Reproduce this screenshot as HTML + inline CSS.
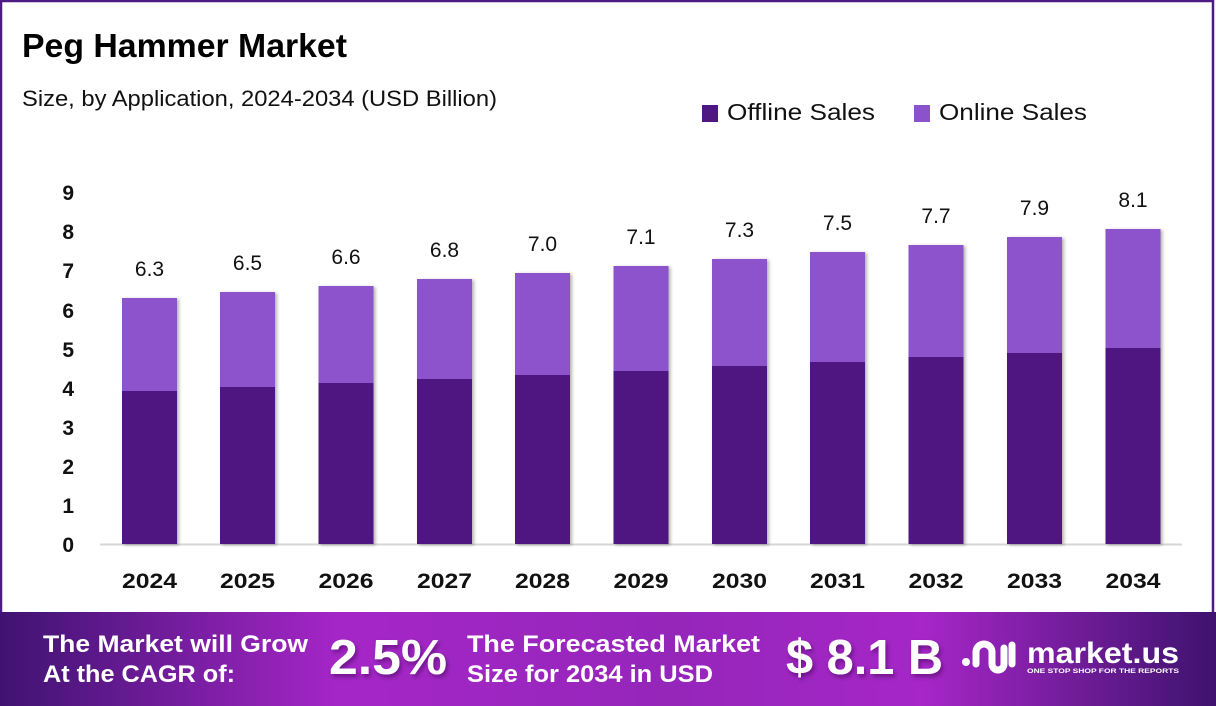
<!DOCTYPE html>
<html>
<head>
<meta charset="utf-8">
<style>
  html,body{margin:0;padding:0;background:#fff;}
  body{width:1216px;height:706px;overflow:hidden;}
  svg{display:block;}
  text{font-family:"Liberation Sans", Arial, sans-serif;}
</style>
</head>
<body>
<svg width="1216" height="706" viewBox="0 0 1216 706" xmlns="http://www.w3.org/2000/svg">
  <defs>
    <linearGradient id="ban" x1="0" y1="0" x2="1" y2="0">
      <stop offset="0" stop-color="#3f1371"/>
      <stop offset="0.28" stop-color="#a526c7"/>
      <stop offset="0.55" stop-color="#9526ba"/>
      <stop offset="0.76" stop-color="#a626c7"/>
      <stop offset="1" stop-color="#3e136e"/>
    </linearGradient>
    <filter id="sh" x="-10%" y="-5%" width="130%" height="115%">
      <feDropShadow dx="2" dy="1" stdDeviation="1.5" flood-color="#000" flood-opacity="0.3"/>
    </filter>
    <filter id="tsh" x="-10%" y="-10%" width="130%" height="140%">
      <feDropShadow dx="2" dy="3" stdDeviation="2" flood-color="#2a0a40" flood-opacity="0.45"/>
    </filter>
  </defs>

  <!-- frame -->
  <rect x="0" y="0" width="1216" height="706" fill="#fff"/>
  <rect x="1" y="1" width="1212" height="640" fill="none" stroke="#4b1a82" stroke-width="2.5"/>

  <!-- title -->
  <text x="22" y="57" font-size="33" font-weight="bold" fill="#000" textLength="325" lengthAdjust="spacingAndGlyphs">Peg Hammer Market</text>
  <text x="22" y="106" font-size="22" fill="#111" textLength="475" lengthAdjust="spacingAndGlyphs">Size, by Application, 2024-2034 (USD Billion)</text>

  <!-- legend -->
  <rect x="702" y="105" width="16" height="17" fill="#4f1781"/>
  <text x="727" y="120" font-size="23" fill="#111" textLength="148" lengthAdjust="spacingAndGlyphs">Offline Sales</text>
  <rect x="914" y="105" width="16" height="17" fill="#8c52cc"/>
  <text x="939" y="120" font-size="23" fill="#111" textLength="148" lengthAdjust="spacingAndGlyphs">Online Sales</text>

  <!-- y ticks -->
  <g font-size="21" font-weight="bold" fill="#111" text-anchor="end">
    <text x="74" y="552">0</text>
    <text x="74" y="513">1</text>
    <text x="74" y="474">2</text>
    <text x="74" y="435">3</text>
    <text x="74" y="396">4</text>
    <text x="74" y="357">5</text>
    <text x="74" y="318">6</text>
    <text x="74" y="278">7</text>
    <text x="74" y="239">8</text>
    <text x="74" y="200">9</text>
  </g>

  <!-- axis -->
  <line x1="100" y1="544.5" x2="1182" y2="544.5" stroke="#d6d6d6" stroke-width="2"/>

  <!-- bars -->
  <g filter="url(#sh)">
    <rect x="122" y="298" width="55" height="93" fill="#8c52cc"/><rect x="122" y="391" width="55" height="153" fill="#4f1781"/>
    <rect x="220" y="292" width="55" height="95" fill="#8c52cc"/><rect x="220" y="387" width="55" height="157" fill="#4f1781"/>
    <rect x="318.5" y="286" width="55" height="97" fill="#8c52cc"/><rect x="318.5" y="383" width="55" height="161" fill="#4f1781"/>
    <rect x="417" y="279" width="55" height="100" fill="#8c52cc"/><rect x="417" y="379" width="55" height="165" fill="#4f1781"/>
    <rect x="515" y="273" width="55" height="102" fill="#8c52cc"/><rect x="515" y="375" width="55" height="169" fill="#4f1781"/>
    <rect x="613.5" y="266" width="55" height="105" fill="#8c52cc"/><rect x="613.5" y="371" width="55" height="173" fill="#4f1781"/>
    <rect x="712" y="259" width="55" height="107" fill="#8c52cc"/><rect x="712" y="366" width="55" height="178" fill="#4f1781"/>
    <rect x="810" y="252" width="55" height="110" fill="#8c52cc"/><rect x="810" y="362" width="55" height="182" fill="#4f1781"/>
    <rect x="908.5" y="245" width="55" height="112" fill="#8c52cc"/><rect x="908.5" y="357" width="55" height="187" fill="#4f1781"/>
    <rect x="1007" y="237" width="55" height="116" fill="#8c52cc"/><rect x="1007" y="353" width="55" height="191" fill="#4f1781"/>
    <rect x="1105.5" y="229" width="55" height="119" fill="#8c52cc"/><rect x="1105.5" y="348" width="55" height="196" fill="#4f1781"/>
  </g>

  <!-- value labels -->
  <g font-size="21" fill="#111" text-anchor="middle">
    <text x="149.5" y="276">6.3</text>
    <text x="247.5" y="270">6.5</text>
    <text x="346" y="264">6.6</text>
    <text x="444.5" y="257">6.8</text>
    <text x="542.5" y="251">7.0</text>
    <text x="641" y="244">7.1</text>
    <text x="739.5" y="237">7.3</text>
    <text x="837.5" y="230">7.5</text>
    <text x="936" y="223">7.7</text>
    <text x="1034.5" y="215">7.9</text>
    <text x="1133" y="207">8.1</text>
  </g>

  <!-- x labels -->
  <g font-size="21" font-weight="bold" fill="#111" text-anchor="middle">
    <text x="149.5" y="588" textLength="55" lengthAdjust="spacingAndGlyphs">2024</text>
    <text x="247.5" y="588" textLength="55" lengthAdjust="spacingAndGlyphs">2025</text>
    <text x="346" y="588" textLength="55" lengthAdjust="spacingAndGlyphs">2026</text>
    <text x="444.5" y="588" textLength="55" lengthAdjust="spacingAndGlyphs">2027</text>
    <text x="542.5" y="588" textLength="55" lengthAdjust="spacingAndGlyphs">2028</text>
    <text x="641" y="588" textLength="55" lengthAdjust="spacingAndGlyphs">2029</text>
    <text x="739.5" y="588" textLength="55" lengthAdjust="spacingAndGlyphs">2030</text>
    <text x="837.5" y="588" textLength="55" lengthAdjust="spacingAndGlyphs">2031</text>
    <text x="936" y="588" textLength="55" lengthAdjust="spacingAndGlyphs">2032</text>
    <text x="1034.5" y="588" textLength="55" lengthAdjust="spacingAndGlyphs">2033</text>
    <text x="1133" y="588" textLength="55" lengthAdjust="spacingAndGlyphs">2034</text>
  </g>

  <!-- banner -->
  <rect x="0" y="612" width="1216" height="94" fill="url(#ban)"/>
  <g fill="#fff" font-weight="bold">
    <text x="43" y="652" font-size="24" textLength="265" lengthAdjust="spacingAndGlyphs">The Market will Grow</text>
    <text x="43" y="682" font-size="24" textLength="192" lengthAdjust="spacingAndGlyphs">At the CAGR of:</text>
    <text x="329" y="674" font-size="49" textLength="118" lengthAdjust="spacingAndGlyphs" filter="url(#tsh)">2.5%</text>
    <text x="467" y="652" font-size="24" textLength="293" lengthAdjust="spacingAndGlyphs">The Forecasted Market</text>
    <text x="467" y="682" font-size="24" textLength="246" lengthAdjust="spacingAndGlyphs">Size for 2034 in USD</text>
    <text x="786" y="674" font-size="49" textLength="157" lengthAdjust="spacingAndGlyphs" filter="url(#tsh)">$ 8.1 B</text>
    <text x="1027" y="663" font-size="30" textLength="152" lengthAdjust="spacingAndGlyphs">market.us</text>
    <text x="1027" y="673" font-size="6.5" textLength="152" lengthAdjust="spacingAndGlyphs">ONE STOP SHOP FOR THE REPORTS</text>
  </g>
  <!-- logo icon -->
  <g fill="none" stroke="#fff" stroke-width="7" stroke-linecap="round" stroke-linejoin="round">
    <path d="M976 664 V652 A8 8 0 0 1 992 652 V664 A6 6 0 0 0 1004 664 V648"/>
    <path d="M1012 645 V664"/>
  </g>
  <circle cx="966" cy="662" r="4" fill="#fff"/>
</svg>
</body>
</html>
